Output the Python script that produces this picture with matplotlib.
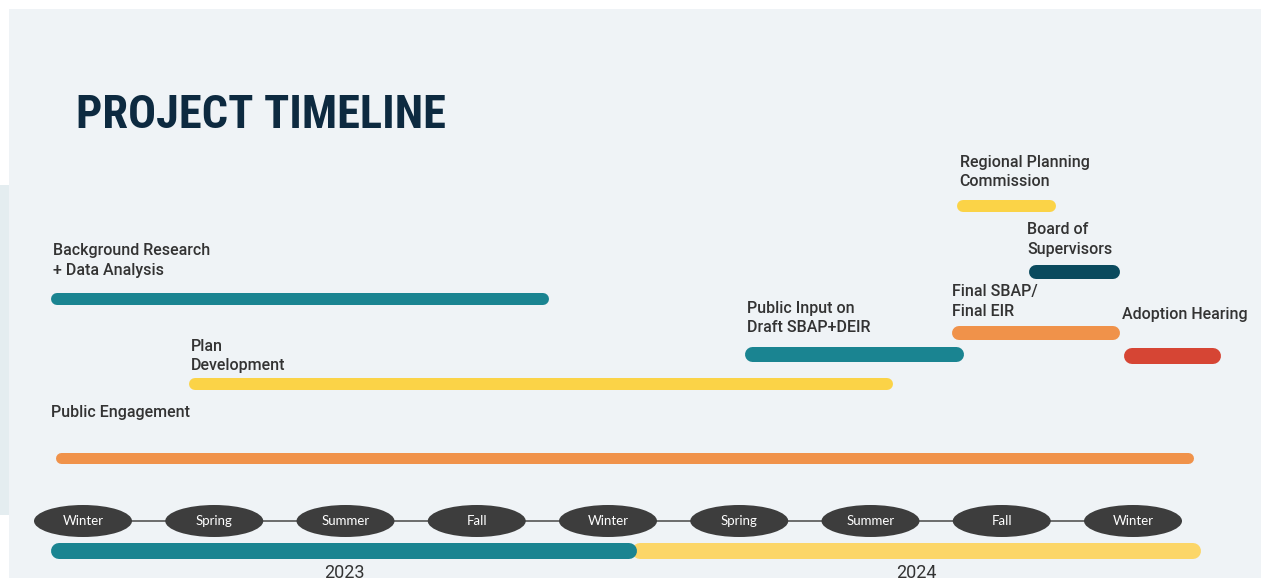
import matplotlib
matplotlib.use("Agg")
import matplotlib.pyplot as plt
from matplotlib.patches import Ellipse, Rectangle
from matplotlib import font_manager

# ---------------- data ----------------
seasons = ["Winter", "Spring", "Summer", "Fall", "Winter",
           "Spring", "Summer", "Fall", "Winter"]

task_labels = ["Background Research\n+ Data Analysis",
               "Plan\nDevelopment",
               "Public Engagement",
               "Public Input on\nDraft SBAP+DEIR",
               "Regional Planning\nCommission",
               "Board of\nSupervisors",
               "Final SBAP/\nFinal EIR",
               "Adoption Hearing"]
# start / end in season-index units (0 = Winter 2023 ... 8 = Winter 2024/25)
task_start = [-0.24, 0.81, -0.21, 5.04, 6.66, 7.21, 6.62, 7.93]
task_end = [3.55, 6.17, 8.46, 6.71, 7.41, 7.90, 7.90, 8.67]

years = ["2023", "2024"]
year_start = [-0.24, 4.18]
year_end = [4.22, 8.52]

# ---------------- styles / layout ----------------
task_colors = ["#1a8491", "#fbd347", "#f0924a", "#1a8491",
               "#fbd347", "#0a4a5e", "#f0924a", "#d64534"]
task_rows = [299, 384, 458, 354, 206, 272, 333, 356]      # bar centre (px from top)
task_thick = [12, 12, 11, 15, 12, 14, 14, 16]              # bar thickness (px)
label_rows = [260.5, 356, 412, 318, 172, 239.5, 301.5, 314]
label_dx = [0.01, 0.015, -0.03, 0.02, 0.02, -0.015, 0.0, -0.015]
year_colors = ["#1a8491", "#fcd668"]

names = {f.name for f in font_manager.fontManager.ttflist}
title_family = "Roboto"
for cand in ["Roboto Condensed", "Open Sans Condensed", "Liberation Sans Narrow",
             "DejaVu Sans Condensed", "Noto Sans Condensed", "Roboto"]:
    if cand in names:
        title_family = cand
        break

W, H = 1261, 578
PX_PER_SEASON = 131.25
X0_PX = 83.0

fig = plt.figure(figsize=(W / 100, H / 100), dpi=100)
fig.patch.set_facecolor("white")
ax = fig.add_axes([0, 0, 1, 1])
ax.set_xlim(-X0_PX / PX_PER_SEASON, (W - X0_PX) / PX_PER_SEASON)
ax.set_ylim(H, 0)
ax.axis("off")

def px_to_x(px):
    return px / PX_PER_SEASON

# background panel
ax.add_patch(Rectangle((px_to_x(-X0_PX), 185), px_to_x(10), 330,
                       facecolor="#e4edf0", edgecolor="none", zorder=0))
ax.add_patch(Rectangle((px_to_x(-X0_PX + 9.5), 9), px_to_x(W), H,
                       facecolor="#eff3f6", edgecolor="none", zorder=0.5))

def rbar(x0, x1, y, thick, color, z=2):
    r = px_to_x(thick / 2)
    ax.plot([x0 + r, x1 - r], [y, y], color=color, lw=thick * 0.72,
            solid_capstyle="round", zorder=z)

# title (size fitted to the reference width)
title = ax.text(px_to_x(76 - X0_PX), 115, "PROJECT TIMELINE", fontsize=36,
                family=title_family, fontweight="bold",
                color="#0d2a40", va="center", ha="left")
renderer = fig.canvas.get_renderer()
tw = title.get_window_extent(renderer).width
title.set_fontsize(36 * 370 / tw)

# tasks
for lab, s, e, c, yr, th, ly, dx in zip(task_labels, task_start, task_end,
                                        task_colors, task_rows, task_thick,
                                        label_rows, label_dx):
    rbar(s, e, yr, th, c)
    ax.text(s + dx, ly, lab, fontsize=11.5, family="Roboto", fontweight="medium",
            color="#333333", va="center", ha="left", linespacing=1.35)

# season track
ax.plot([0, len(seasons) - 1], [521, 521], color="#555555", lw=1.2, zorder=2)
for i, s in enumerate(seasons):
    ax.add_patch(Ellipse((i, 521), px_to_x(98), 32, facecolor="#3d3d3d",
                         edgecolor="none", zorder=3))
    ax.text(i, 521, s, fontsize=9.5, family="Lato", color="white",
            ha="center", va="center", zorder=4)

# year bars
for idx in [1, 0]:
    rbar(year_start[idx], year_end[idx], 551, 16, year_colors[idx], z=2 + (1 - idx))
for y, s, e in zip(years, year_start, year_end):
    ax.text((s + e) / 2, 564, y, fontsize=13, family="Roboto", color="#333333",
            ha="center", va="top")

fig.savefig("out.png", dpi=100)
